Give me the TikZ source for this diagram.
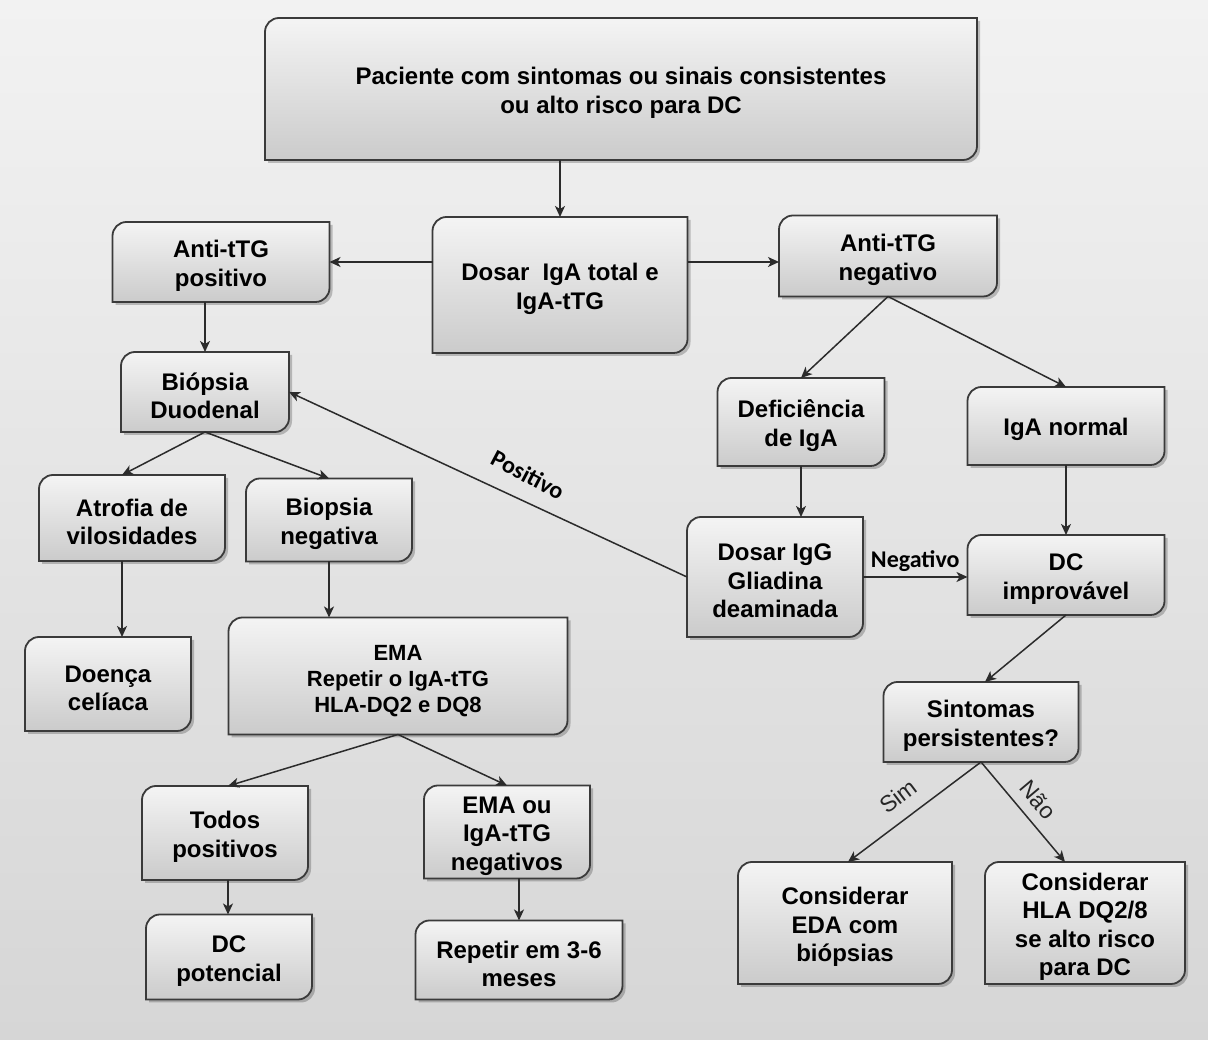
\documentclass[tikz,border=0pt]{standalone}
\usepackage{fontspec}
\setmainfont{Liberation Sans}
\newfontfamily\lblfont{Carlito}
\usetikzlibrary{arrows.meta,backgrounds,calc}

\definecolor{boxtop}{HTML}{F4F4F4}
\definecolor{boxbot}{HTML}{CBCBCB}
\definecolor{boxline}{HTML}{3A3A3A}
\definecolor{arrowline}{HTML}{2B2B2B}
\definecolor{bgtop}{HTML}{F2F2F2}
\definecolor{bgbot}{HTML}{D6D6D6}

% strut that pushes the text a little lower in its box
\newcommand{\boxstrut}{\rule{0pt}{25pt}}

% box with round top-left and bottom-right corners, plus a soft shadow
\newcommand{\flowbox}[1]{%
  \fill[black, opacity=0.22] let \p1=(#1.north west), \p2=(#1.south east) in
    (\x1+3pt,\y2-3pt) -- (\x1+3pt,\y1-17pt) arc[start angle=180,end angle=90,radius=14pt]
    -- (\x2+3pt,\y1-3pt) -- (\x2+3pt,\y2+11pt) arc[start angle=0,end angle=-90,radius=14pt] -- cycle;
  \shadedraw[top color=boxtop, bottom color=boxbot, draw=boxline, line width=1.8pt]
    let \p1=(#1.north west), \p2=(#1.south east) in
    (\x1,\y2) -- (\x1,\y1-14pt) arc[start angle=180,end angle=90,radius=14pt]
    -- (\x2,\y1) -- (\x2,\y2+14pt) arc[start angle=0,end angle=-90,radius=14pt] -- cycle;
}

\begin{document}
\begin{tikzpicture}[x=1pt, y=1pt,
	box/.style={rectangle, outer sep=0pt, inner sep=2pt, align=center,
		font=\fontsize{24}{28.5}\selectfont\bfseries},
	flow/.style={-{Stealth[length=11pt,width=10pt,inset=3pt]}, line width=1.5pt, draw=arrowline},
	lbl/.style={font=\lblfont\fontsize{24}{28}\selectfont\bfseries, text=black},
	yesno/.style={font=\fontsize{23}{26}\selectfont, text=black!85}]
	\useasboundingbox (0,0) rectangle (1208,1040);

	% Top of the chart
	\node[box, minimum width=712pt, minimum height=142pt] (paciente) at (621,951)
		{\boxstrut Paciente com sintomas ou sinais consistentes\\ou alto risco para DC};
	\node[box, minimum width=255pt, minimum height=136pt] (dosar) at (560,755)
		{\boxstrut Dosar~ IgA total e\\IgA-tTG};
	\node[box, minimum width=217pt, minimum height=80pt] (antipos) at (221,778)
		{\boxstrut Anti-tTG\\positivo};
	\node[box, minimum width=218pt, minimum height=81pt] (antineg) at (888,784)
		{\boxstrut Anti-tTG\\negativo};

	% Left branch
	\node[box, minimum width=168pt, minimum height=80pt] (biopsia) at (205,648)
		{\boxstrut Biópsia\\Duodenal};
	\node[box, minimum width=186pt, minimum height=86pt] (atrofia) at (132,522)
		{\boxstrut Atrofia de\\vilosidades};
	\node[box, minimum width=166pt, minimum height=83pt] (biopneg) at (329,520)
		{\boxstrut Biopsia\\negativa};
	\node[box, minimum width=166pt, minimum height=94pt] (doenca) at (108,356)
		{\boxstrut Doença\\celíaca};
	\node[box, minimum width=339pt, minimum height=117pt,
		font=\fontsize{22}{26}\selectfont\bfseries] (ema) at (398,364)
		{\boxstrut EMA\\Repetir o IgA-tTG\\HLA-DQ2 e DQ8};
	\node[box, minimum width=166pt, minimum height=94pt] (todos) at (225,207)
		{\boxstrut Todos\\positivos};
	\node[box, minimum width=166pt, minimum height=93pt] (emaneg) at (507,208)
		{\boxstrut EMA ou\\IgA-tTG\\negativos};
	\node[box, minimum width=166pt, minimum height=85pt] (dcpot) at (229,83)
		{\boxstrut DC\\potencial};
	\node[box, minimum width=207pt, minimum height=79pt] (repetir) at (519,80)
		{\boxstrut Repetir em 3-6\\meses};

	% Right branch
	\node[box, minimum width=167pt, minimum height=88pt] (deficiencia) at (801,618)
		{\boxstrut Deficiência\\de IgA};
	\node[box, minimum width=197pt, minimum height=78pt] (iganormal) at (1066,614)
		{\boxstrut IgA normal};
	\node[box, minimum width=176pt, minimum height=120pt] (dosarigg) at (775,463)
		{\boxstrut Dosar IgG\\Gliadina\\deaminada};
	\node[box, minimum width=197pt, minimum height=80pt] (dcimprov) at (1066,465)
		{\boxstrut DC\\improvável};
	\node[box, minimum width=195pt, minimum height=80pt] (sintomas) at (981,318)
		{\boxstrut Sintomas\\persistentes?};
	\node[box, minimum width=214pt, minimum height=122pt] (considera) at (845,117)
		{\boxstrut Considerar\\EDA com\\biópsias};
	\node[box, minimum width=200pt, minimum height=122pt] (considerb) at (1085,117)
		{\boxstrut Considerar\\HLA DQ2/8\\se alto risco\\para DC};

	% Background and box shapes
	\begin{scope}[on background layer]
		\shade[top color=bgtop, bottom color=bgbot] (0,0) rectangle (1208,1040);
		\foreach \bx in {paciente,dosar,antipos,antineg,biopsia,atrofia,biopneg,doenca,ema,
			todos,emaneg,dcpot,repetir,deficiencia,iganormal,dosarigg,dcimprov,sintomas,
			considera,considerb}
			{\flowbox{\bx}}
	\end{scope}

	% Arrows
	\draw[flow] (paciente.south -| dosar.north) -- (dosar.north);
	\draw[flow] (dosar.west |- antipos.east) -- (antipos.east);
	\draw[flow] (dosar.east |- antipos.east) -- (antineg.west |- antipos.east);
	\draw[flow] (antipos.south -| biopsia.north) -- (biopsia.north);
	\draw[flow] (antineg.south) -- (deficiencia.north);
	\draw[flow] (antineg.south) -- (iganormal.north);
	\draw[flow] (biopsia.south) -- ([xshift=-10pt]atrofia.north);
	\draw[flow] (biopsia.south) -- (biopneg.north);
	\draw[flow] ([xshift=-10pt]atrofia.south) -- ([xshift=-10pt]atrofia.south |- doenca.north);
	\draw[flow] (biopneg.south) -- (biopneg.south |- ema.north);
	\draw[flow] (deficiencia.south) -- (deficiencia.south |- dosarigg.north);
	\draw[flow] (dosarigg.west) -- node[lbl, sloped, rotate=-3, above=13pt, pos=0.43] {Positivo} (biopsia.east);
	\draw[flow] (dosarigg.east) -- node[lbl, above=1pt] {Negativo} (dosarigg.east -| dcimprov.west);
	\draw[flow] (iganormal.south) -- (dcimprov.north);
	\draw[flow] (dcimprov.south) -- ([xshift=4pt]sintomas.north);
	\draw[flow] (ema.south) -- ([xshift=3pt]todos.north);
	\draw[flow] (ema.south) -- (emaneg.north);
	\draw[flow] ([xshift=3pt]todos.south) -- ([xshift=3pt]todos.south |- dcpot.north);
	\draw[flow] (emaneg.south -| repetir.north) -- (repetir.north);
	\draw[flow] (sintomas.south) -- node[yesno, sloped, above=10pt, pos=0.52] {Sim} ([xshift=3pt]considera.north);
	\draw[flow] (sintomas.south) -- node[yesno, sloped, above=7pt, pos=0.5] {Não} ([xshift=-20pt]considerb.north);

\end{tikzpicture}
\end{document}
